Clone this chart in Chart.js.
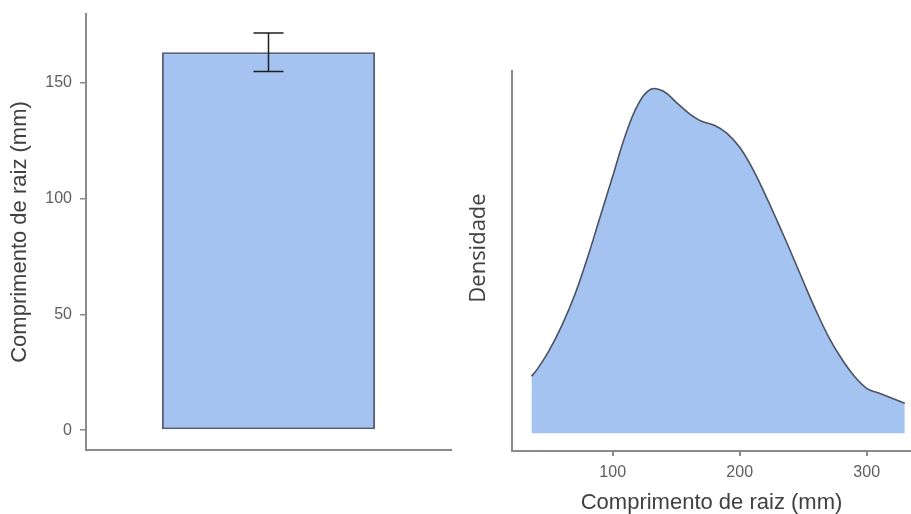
<!DOCTYPE html>
<html>
<head>
<meta charset="utf-8">
<script src="https://cdn.jsdelivr.net/npm/chart.js@4/dist/chart.umd.min.js"></script>
<style>
  html, body { margin: 0; padding: 0; background: #fff; }
  #wrap { position: relative; width: 911px; height: 514px; overflow: hidden; }
  canvas { position: absolute; top: 0; }
  #barChart { left: 0; }
  #densChart { left: 460px; }
</style>
</head>
<body>
<div id="wrap">
  <canvas id="barChart" width="460" height="514"></canvas>
  <canvas id="densChart" width="451" height="514"></canvas>
</div>
<script>
// Mean root length with its error (mm)
const groups = ['Raiz'];
const meanLength = [163.3];
const errLength = [8.3];
const barTicks = [0, 50, 100, 150];

// Kernel density of root length
const lengthMm = [36, 40, 50, 60, 70, 80, 90, 100, 110, 120, 130, 140, 150, 160, 170, 180, 190, 200, 210, 220, 230, 240, 250, 260, 270, 280, 290, 300, 310, 320, 330];
const density = [0.00114, 0.00126, 0.00166, 0.00216, 0.00276, 0.00350, 0.00432, 0.00514, 0.00596, 0.00658, 0.00688, 0.00684, 0.00662, 0.00640, 0.00624, 0.00616, 0.00600, 0.00572, 0.00530, 0.00478, 0.00422, 0.00364, 0.00304, 0.00246, 0.00193, 0.00150, 0.00115, 0.00090, 0.00080, 0.00070, 0.00060];
const lengthTicks = [100, 200, 300];

const SANS = "'Liberation Sans', Arial, sans-serif";
const AXIS = '#8a8a8a';
const TICK_TXT = '#5e5e5e';
const TITLE_TXT = '#404040';
const FILL = '#a5c3f0';

Chart.defaults.font.family = SANS;
Chart.defaults.devicePixelRatio = 1;

// Error bar drawn on top of each bar, using the value scale
const errorBars = {
  id: 'errorBars',
  afterDatasetsDraw(chart) {
    const ctx = chart.ctx;
    const y = chart.scales.y;
    const meta = chart.getDatasetMeta(0);
    meta.data.forEach((bar, i) => {
      const yHi = y.getPixelForValue(meanLength[i] + errLength[i]);
      const yLo = y.getPixelForValue(meanLength[i] - errLength[i]);
      const cap = 15;
      ctx.save();
      ctx.strokeStyle = '#1e1e1e';
      ctx.lineWidth = 1.5;
      ctx.beginPath();
      ctx.moveTo(bar.x, yHi); ctx.lineTo(bar.x, yLo);
      ctx.moveTo(bar.x - cap, yHi); ctx.lineTo(bar.x + cap, yHi);
      ctx.moveTo(bar.x - cap, yLo); ctx.lineTo(bar.x + cap, yLo);
      ctx.stroke();
      ctx.restore();
    });
  }
};

// Vertical caption beside the density axis, set a little above the panel middle
const densityCaption = {
  id: 'densityCaption',
  afterDraw(chart, args, opts) {
    const ctx = chart.ctx;
    const area = chart.chartArea;
    ctx.save();
    ctx.translate(opts.x, (area.top + area.bottom) / 2 + opts.shift);
    ctx.rotate(-Math.PI / 2);
    ctx.font = opts.font;
    ctx.fillStyle = opts.color;
    ctx.textAlign = 'center';
    ctx.textBaseline = 'middle';
    ctx.fillText(opts.text, 0, 0);
    ctx.restore();
  }
};

new Chart(document.getElementById('barChart'), {
  type: 'bar',
  data: {
    labels: groups,
    datasets: [{
      data: meanLength,
      backgroundColor: FILL,
      borderColor: '#56607a',
      borderWidth: 2,
      borderSkipped: false,
      barPercentage: 0.584,
      categoryPercentage: 1
    }]
  },
  options: {
    responsive: false,
    animation: false,
    layout: { padding: { top: 14, right: 9, left: 0, bottom: 0 } },
    plugins: { legend: { display: false }, tooltip: { enabled: false } },
    scales: {
      x: {
        ticks: { display: false },
        grid: { display: false },
        border: { display: true, color: AXIS, width: 2 },
        afterFit(s) { s.height = 64; s.paddingLeft = 0; s.paddingRight = 0; }
      },
      y: {
        min: -8.6,
        max: 179.8,
        afterBuildTicks(s) { s.ticks = barTicks.map(v => ({ value: v })); },
        ticks: { color: TICK_TXT, font: { size: 16 }, padding: 8 },
        grid: { drawOnChartArea: false, drawTicks: true, tickLength: 6, color: AXIS, lineWidth: 1.5 },
        border: { display: true, color: AXIS, width: 2 },
        title: {
          display: true,
          text: 'Comprimento de raiz (mm)',
          color: TITLE_TXT,
          font: { size: 22, lineHeight: 1 },
          padding: { top: 9, bottom: 0 }
        },
        afterFit(s) { s.width = 86; s.paddingTop = 0; s.paddingBottom = 0; }
      }
    }
  },
  plugins: [errorBars]
});

new Chart(document.getElementById('densChart'), {
  type: 'line',
  data: {
    datasets: [{
      data: lengthMm.map((x, i) => ({ x: x, y: density[i] })),
      borderColor: '#4b5363',
      borderWidth: 1.6,
      backgroundColor: FILL,
      fill: 'origin',
      pointRadius: 0,
      tension: 0.4
    }]
  },
  options: {
    responsive: false,
    animation: false,
    layout: { padding: { top: 71, right: 0, left: 0, bottom: 0 } },
    plugins: {
      legend: { display: false },
      tooltip: { enabled: false },
      densityCaption: {
        text: 'Densidade',
        x: 19,
        shift: -13,
        font: "22px 'Open Sans', sans-serif",
        color: TITLE_TXT
      }
    },
    scales: {
      x: {
        type: 'linear',
        min: 20.7,
        max: 334.9,
        afterBuildTicks(s) { s.ticks = lengthTicks.map(v => ({ value: v })); },
        ticks: { color: TICK_TXT, font: { size: 16 }, padding: 7 },
        grid: { drawOnChartArea: false, drawTicks: true, tickLength: 5, color: AXIS, lineWidth: 2 },
        border: { display: true, color: AXIS, width: 2 },
        title: {
          display: true,
          text: 'Comprimento de raiz (mm)',
          color: TITLE_TXT,
          font: { size: 22, lineHeight: 1 },
          padding: { top: 0, bottom: 0 }
        },
        afterFit(s) { s.height = 63; }
      },
      y: {
        min: -0.000354,
        max: 0.007246,
        ticks: { display: false },
        grid: { display: false },
        border: { display: true, color: AXIS, width: 2 },
        afterFit(s) { s.width = 52; }
      }
    }
  },
  plugins: [densityCaption]
});
</script>
</body>
</html>
